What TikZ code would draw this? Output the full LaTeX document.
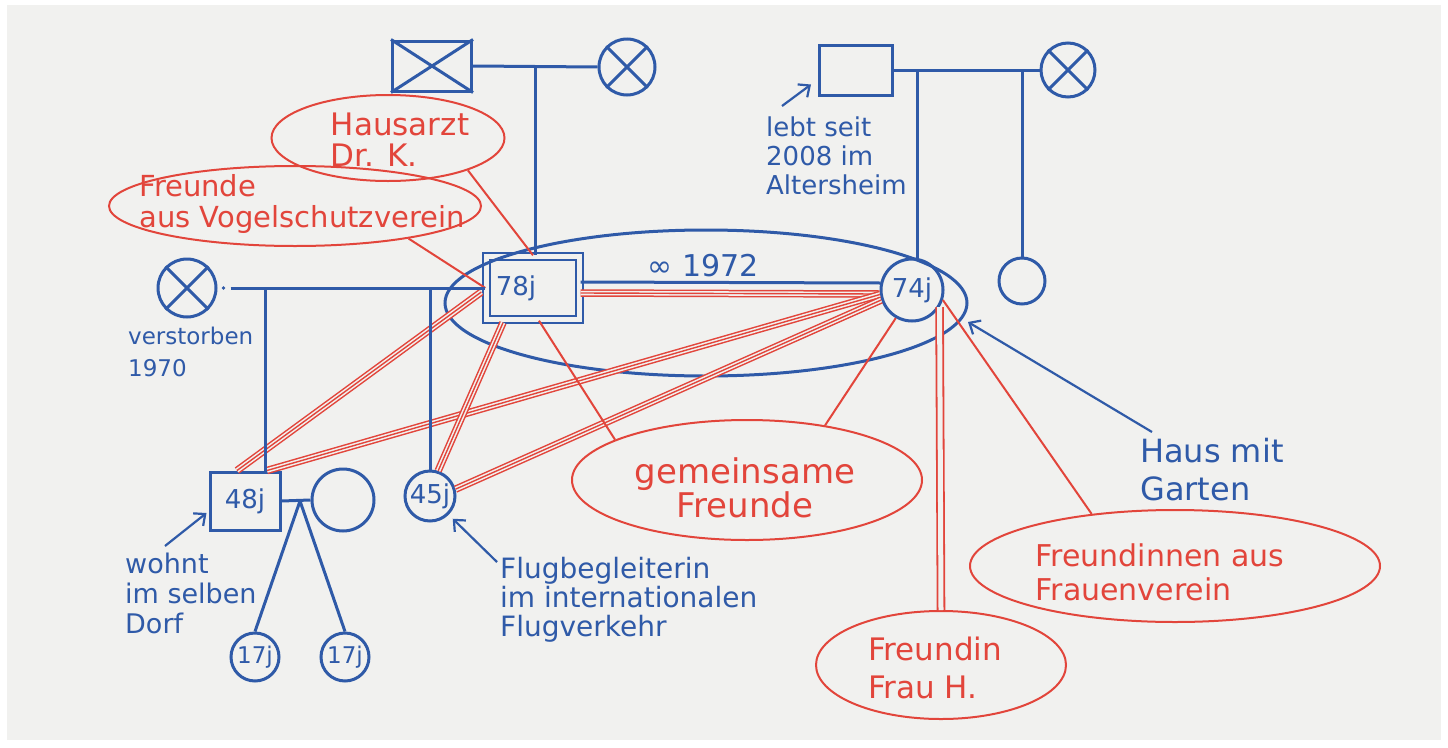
\documentclass[tikz,border=0pt]{standalone}
\usepackage{fontspec}
\setmainfont{DejaVu Sans}
\usetikzlibrary{shapes.geometric,calc,arrows.meta}
\definecolor{pblue}{HTML}{2F5AA8}
\definecolor{pred}{HTML}{E2453B}
\definecolor{bgc}{HTML}{F1F1EF}
\newcommand\fsz[2]{\fontsize{#1}{#2}\selectfont}
\begin{document}
\begin{tikzpicture}[x=1pt,y=-1pt,
  bl/.style={draw=pblue, line width=3pt},
  rd/.style={draw=pred, line width=2pt},
  person/.style={draw=pblue, line width=3pt, inner sep=0pt, text=pblue, font=\fsz{26}{28}},
  bubble/.style={ellipse, draw=pred, line width=2pt, inner sep=0pt},
  rtext/.style={text=pred, align=left, inner sep=0pt},
  note/.style={text=pblue, align=left, inner sep=0pt},
  arr/.style={draw=pblue, line width=2.2pt, -{Straight Barb[length=9pt,width=16pt]}},
  triple/.style={preaction={draw=pred, line width=7.5pt}, preaction={draw=bgc, line width=4.5pt}, draw=pred, line width=1.4pt},
  dbl/.style={draw=pred, line width=1.8pt, double=bgc, double distance=5pt}]
\useasboundingbox (0,0) rectangle (1448,747);
\fill[white] (0,0) rectangle (1448,747);
\fill[bgc] (7,5) rectangle (1441,740);

% persons
\node[person, rectangle, minimum width=79, minimum height=50] (gf1) at (432,66) {};
\node[person, circle, minimum size=56] (gm1) at (627,67) {};
\node[person, rectangle, minimum width=73, minimum height=50] (gf2) at (856,70) {};
\node[person, circle, minimum size=54] (gm2) at (1068,70) {};
\node[person, circle, minimum size=46] (sis) at (1022,281) {};
\node[person, rectangle, minimum width=93, minimum height=63, line width=2.4pt, double=bgc, double distance=5pt] (p78) at (533,288) {78j\hspace*{34pt}};
\node[person, circle, minimum size=62] (p74) at (912,290) {74j};
\node[person, circle, minimum size=58] (w1) at (187,288) {};
\node[person, rectangle, minimum width=70, minimum height=58] (s48) at (245,501) {48j};
\node[person, circle, minimum size=62] (sp48) at (343,500) {};
\node[person, circle, minimum size=50] (d45) at (430,496) {45j};
\node[person, circle, minimum size=48, font=\fsz{23}{25}] (k1) at (255,657) {17j};
\node[person, circle, minimum size=48, font=\fsz{23}{25}] (k2) at (345,657) {17j};
\node[ellipse, draw=pblue, line width=3pt, inner sep=0pt, minimum width=522, minimum height=146] (couple) at (706,303) {};

% bubbles
\node[bubble, minimum width=233, minimum height=86] (arzt) at (388,138) {};
\node[bubble, minimum width=372, minimum height=80] (vogel) at (295,206) {};
\node[bubble, minimum width=350, minimum height=120] (gemein) at (747,480) {};
\node[bubble, minimum width=410, minimum height=112] (frauen) at (1175,566) {};
\node[bubble, minimum width=250, minimum height=108] (frauH) at (941,665) {};

% strong relations (triple lines)
\draw[triple] ($(p78.east)+(0,5)$) -- ($(p74.west)+(0,4)$);
\draw[triple] (p74.188) -- ($(s48.north)+(22,0)$);
\draw[triple] (p74.198) -- (d45.15);
\draw[triple] ($(p78.west)+(-4,4)$) -- ($(s48.north)+(-8,0)$);
\draw[triple] ($(p78.south)+(-30,2)$) -- (d45.72);
\draw[dbl] (p74.-32) -- (frauH.north);

% single relations
\draw[rd] (arzt.-22) -- (p78.north);
\draw[rd] (vogel.-16) -- (p78.west);
\draw[rd] (gemein.163) -- ($(p78.south)+(6,0)$);
\draw[rd] (gemein.35) -- (p74.240);
\draw[rd] (frauen.148) -- (p74.-18);

% family lines
\draw[bl] (gf1.north west) -- (gf1.south east) (gf1.north east) -- (gf1.south west);
\draw[bl] (gm1.north west) -- (gm1.south east) (gm1.north east) -- (gm1.south west);
\draw[bl] (gm2.north west) -- (gm2.south east) (gm2.north east) -- (gm2.south west);
\draw[bl] (w1.north west) -- (w1.south east) (w1.north east) -- (w1.south west);
\draw[bl] (gf1.east) -- (gm1.west);
\coordinate (m1) at (535,67);
\draw[bl] (m1) -- (m1 |- p78.north);
\draw[bl] (gf2.east) -- (gm2.west);
\coordinate (m2) at (917,70);
\draw[bl] (m2) -- (m2 |- p74.north);
\coordinate (m3) at (1022,70);
\draw[bl] (m3) -- (sis.north);
\fill[pblue] ($(w1.east)+(6,0)$) circle (1.8);
\draw[bl] ($(w1.east)+(13,0)$) -- (p78.west);
\coordinate (c1) at (265,288);
\draw[bl] (c1) -- (c1 |- s48.north);
\coordinate (c2) at (430,288);
\draw[bl] (c2) -- (d45.north);
\draw[bl] ($(p78.east)+(0,-6)$) -- ($(p74.west)+(1,-7)$);
\node[note, font=\fsz{30}{32}] (marr) at (703,266) {∞ 1972};
\draw[bl] (s48.east) -- (sp48.west);
\coordinate (m4) at (300,501);
\draw[bl] (m4) -- (k1.north);
\draw[bl] (m4) -- (k2.north);

% annotations
\node[note, anchor=north west, font=\fsz{26}{29}] (lebt) at (766,117) {lebt seit\\2008 im\\Altersheim};
\node[note, anchor=north west, font=\fsz{23}{32}] (verst) at (128,327) {verstorben\\1970};
\node[note, anchor=north west, font=\fsz{27}{30}] (wohnt) at (125,553) {wohnt\\im selben\\Dorf};
\node[note, anchor=north west, font=\fsz{28}{29}] (flug) at (500,557) {Flugbegleiterin\\im internationalen\\Flugverkehr};
\node[note, anchor=north west, font=\fsz{32}{38}] (haus) at (1140,438) {Haus mit\\Garten};
\coordinate (a1) at (782,106);
\draw[arr] (a1) -- ($(gf2.south west)+(-7,-12)$);
\coordinate (a2) at (165,546);
\draw[arr] (a2) -- ($(s48.west)+(-2,12)$);
\coordinate (a3) at (497,562);
\draw[arr] (a3) -- ($(d45.south east)+(4,4)$);
\coordinate (a4) at (1152,432);
\coordinate (a5) at (968,322);
\draw[arr] (a4) -- (a5);

% bubble texts
\node[rtext, font=\fsz{31}{31}] (arztt) at (400,140) {Hausarzt\\Dr. K.};
\node[rtext, font=\fsz{29}{31}] (vogelt) at (302,204) {Freunde\\aus Vogelschutzverein};
\node[rtext, align=center, font=\fsz{34}{34}] (gemeint) at (745,488) {gemeinsame\\Freunde};
\node[rtext, font=\fsz{30}{34}] (frauent) at (1160,572) {Freundinnen aus\\Frauenverein};
\node[rtext, font=\fsz{31}{38}] (frauHt) at (935,668) {Freundin\\Frau H.};
\end{tikzpicture}
\end{document}
